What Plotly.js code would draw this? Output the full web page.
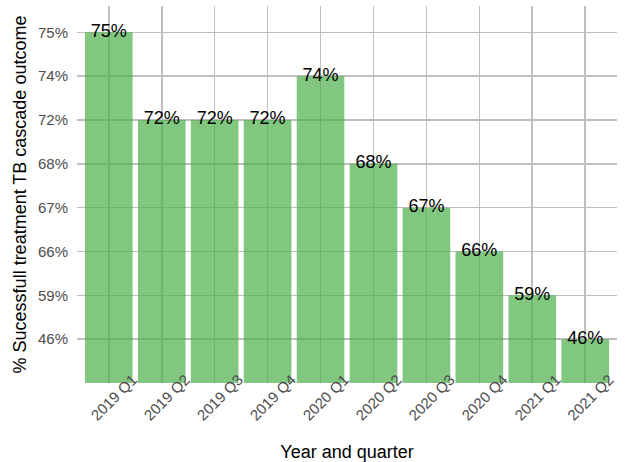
<!DOCTYPE html>
<html><head><meta charset="utf-8">
<script src="https://cdn.plot.ly/plotly-3.0.1.min.js"></script>
<style>html,body{margin:0;padding:0;background:#fff}#chart{width:626px;height:462px}</style>
</head><body><div id="chart"></div>
<script>
const quarters = ["2019 Q1","2019 Q2","2019 Q3","2019 Q4","2020 Q1","2020 Q2","2020 Q3","2020 Q4","2021 Q1","2021 Q2"];
const outcomePct = [75, 72, 72, 72, 74, 68, 67, 66, 59, 46];

// discrete y scale: each distinct value is one evenly spaced level
const levels = Array.from(new Set(outcomePct)).sort((a,b)=>a-b);
const levelLabels = levels.map(v => v + "%");
const levelPos = outcomePct.map(v => levels.indexOf(v) + 1);
const tickPos = levels.map((v,i) => i + 1);
const barLabels = outcomePct.map(v => v + "%");

const font = "Liberation Sans, Arial, Helvetica, sans-serif";
const traces = [
  {type:"bar", x:quarters, y:levelPos, width:0.9,
   marker:{color:"#4daf4a", opacity:0.7, line:{width:0}}, hoverinfo:"skip"},
  {type:"scatter", mode:"text", x:quarters, y:levelPos, text:barLabels,
   textposition:"middle center", textfont:{family:font, size:18, color:"#000"}, hoverinfo:"skip"}
];
const layout = {
  width:626, height:462, showlegend:false,
  paper_bgcolor:"#fff", plot_bgcolor:"#fff",
  margin:{l:77, r:9, t:6, b:79},
  xaxis:{type:"category", range:[-0.6, 9.6], showgrid:true, gridcolor:"#bfbfbf", gridwidth:1.6,
    zeroline:false, showline:false, ticks:"", tickangle:-45,
    tickfont:{family:font, size:15, color:"#4d4d4d"}, ticklabelshift:24, ticklabelstandoff:-16,
    title:{text:"Year and quarter", font:{family:font, size:18, color:"#000"}, standoff:30}},
  yaxis:{range:[0, 8.6], tickvals:tickPos, ticktext:levelLabels, showgrid:true,
    gridcolor:"#bfbfbf", gridwidth:1.6, zeroline:false, showline:false, ticks:"",
    tickfont:{family:font, size:15, color:"#4d4d4d"}, ticklabelstandoff:8,
    title:{text:"% Sucessfull treatment TB cascade outcome", font:{family:font, size:18, color:"#000"}, standoff:6}},
  font:{family:font}
};
Plotly.newPlot("chart", traces, layout, {displayModeBar:false, staticPlot:true});
</script></body></html>
